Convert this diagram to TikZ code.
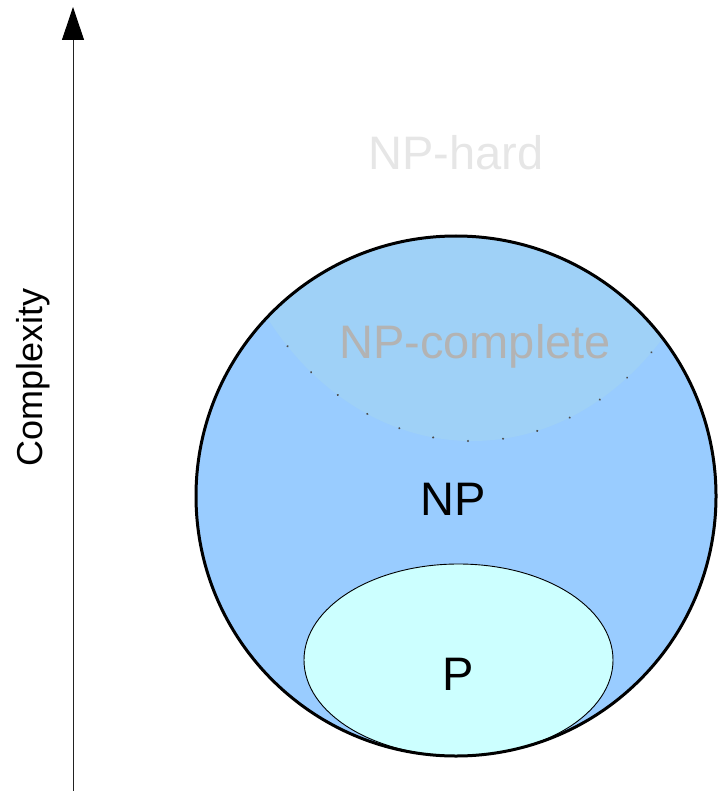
\documentclass[tikz,border=0pt]{standalone}
\usepackage{fontspec}
\setmainfont{Liberation Sans}
\usetikzlibrary{arrows.meta}
\definecolor{npblue}{HTML}{99CCFF}
\definecolor{npcblue}{HTML}{9FD1F7}
\definecolor{pcyan}{HTML}{CCFFFF}
\definecolor{hardgray}{HTML}{E6E6E6}
\definecolor{completegray}{HTML}{B3B3B3}
\definecolor{axisgray}{HTML}{222222}
\begin{document}
\begin{tikzpicture}[x=1pt,y=-1pt,
  setlabel/.style={font=\fontsize{47}{56}\selectfont, anchor=base, inner sep=0pt},
  hardellipse/.style={x radius=260pt, y radius=321pt}]
\useasboundingbox (0,0) rectangle (726,791);

% NP: the large circle
\fill[npblue] (456,496) circle[radius=260pt];

% NP-complete: the part of NP that lies inside the NP-hard region
\begin{scope}
  \clip (456,496) circle[radius=260pt];
  \fill[npcblue] (472,120) ellipse[hardellipse];
  \draw[black!70, line width=2.2pt, line cap=round, dash pattern=on 0.1pt off 35pt]
    (472,120) ellipse[hardellipse];
\end{scope}

% P: ellipse resting on the bottom of NP
\filldraw[fill=pcyan, draw=black, line width=0.9pt]
  (458.5,660) ellipse[x radius=154.5pt, y radius=96pt];

% outline of NP on top
\draw[black, line width=3pt] (456,496) circle[radius=260pt];

% labels
\node[setlabel, text=hardgray] (hard) at (456,170) {NP-hard};
\node[setlabel, text=completegray] (complete) at (475,358) {NP-complete};
\node[setlabel, text=black] (np) at (453,515) {NP};
\node[setlabel, text=black] (p) at (458,690) {P};

% complexity axis
\coordinate (axisbottom) at (73,791);
\coordinate (axistop) at (73,7);
\draw[axisgray, line width=1pt, -{Triangle[width=22pt,length=33pt,color=black]}] (axisbottom) -- (axistop);
\node[font=\fontsize{36}{43}\selectfont, anchor=base, inner sep=0pt, rotate=90] (complexity) at (42,377) {Complexity};
\end{tikzpicture}
\end{document}
